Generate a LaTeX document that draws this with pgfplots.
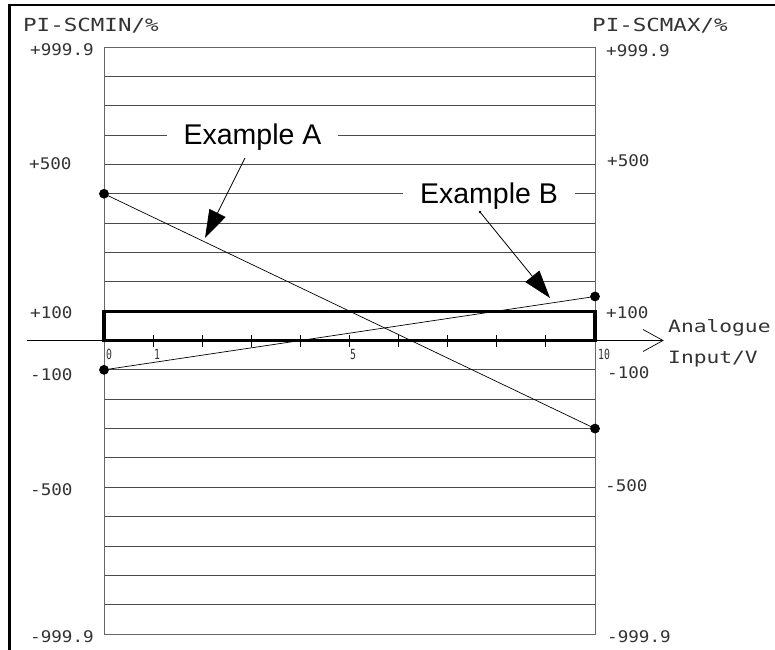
\documentclass[border=0pt]{standalone}
\usepackage{pgfplots}
\pgfplotsset{compat=1.18}
\usetikzlibrary{arrows.meta}
\usepackage{fontspec}
\setmainfont{Liberation Sans}
\newfontfamily\cad{DejaVu Sans Mono}[FakeStretch=1.25]
\newfontfamily\cadm{DejaVu Sans Mono}[FakeStretch=1.1]
\newfontfamily\cadn{DejaVu Sans Mono}[FakeStretch=0.7]
\definecolor{gridc}{HTML}{4A4A4A}
\definecolor{txt}{HTML}{333333}
\begin{document}
\begin{tikzpicture}
\path[use as bounding box] (0pt,0pt) rectangle (775pt,649pt);
\begin{axis}[
  at={(104pt,15pt)}, anchor=south west,
  scale only axis, width=491pt, height=587pt,
  xmin=0, xmax=10, ymin=-1000, ymax=1000,
  xtick=\empty,
  ytick={-1000,-900,-800,-700,-600,-500,-400,-300,-200,-100,0,100,200,300,400,500,600,700,800,900,1000},
  yticklabels={}, ytick style={draw=none},
  ymajorgrids, grid style={line width=0.9pt, color=gridc},
  axis line style={line width=0.9pt, color=gray!80!black},
  clip=false,
]
\addplot[black, line width=3.2pt, mark=none] coordinates {(0,0) (10,0) (10,100) (0,100)} -- cycle;
\addplot[black, line width=0.7pt, mark=*, mark size=4.5pt] coordinates {(0,500) (10,-300)};
\addplot[black, line width=0.7pt, mark=*, mark size=4.5pt] coordinates {(0,-100) (10,150)};
\end{axis}
\begin{scope}[x=1pt,y=1pt]
% frame
\draw[line width=2.7pt] (9.5,-2) -- (9.5,644) -- (780,644);
% x axis line with open arrow
\draw[line width=0.7pt] (27,308.5) -- (663,308.5);
\draw[line width=0.7pt] (643,319.5) -- (663,308.5) -- (643,297.5);
\foreach \k in {1,...,9} {\draw[line width=0.9pt] ({104+49.1*\k},302.5) -- ({104+49.1*\k},314.5);}
% tick labels
\begin{scope}[every node/.style={inner sep=0pt, anchor=base west, text=txt, font=\cadn\fontsize{14}{14}\selectfont}]
\node at (106,290) {0};
\node at (154,290) {1};
\node at (350,290) {5};
\node at (598,290) {10};
\end{scope}
% titles and value labels
\begin{scope}[every node/.style={inner sep=0pt, anchor=base west, text=txt, font=\cadm\fontsize{16}{16}\selectfont}]
\node[font=\cad\fontsize{18}{18}\selectfont] at (23,617) {PI-SCMIN/\%};
\node[font=\cad\fontsize{18}{18}\selectfont] at (592,617) {PI-SCMAX/\%};
\node at (30,593) {+999.9};
\node at (29,479) {+500};
\node at (30,331) {+100};
\node at (30,269) {-100};
\node at (30,154) {-500};
\node at (30,7) {-999.9};
\node at (606,592) {+999.9};
\node at (607,482) {+500};
\node at (606,331) {+100};
\node at (607,271) {-100};
\node at (605,158) {-500};
\node at (607,7) {-999.9};
\node[font=\cad\fontsize{17}{17}\selectfont] at (668,317) {Analogue};
\node[font=\cad\fontsize{17}{17}\selectfont] at (668,286) {Input/V};
\end{scope}
% example labels
\node[fill=white, inner xsep=17pt, inner ysep=3pt, anchor=base, font=\fontsize{28.5}{30}\selectfont] at (252.5,504) {Example A};
\node[fill=white, inner xsep=17pt, inner ysep=3pt, anchor=base, font=\fontsize{28.5}{30}\selectfont] at (489,446) {Example B};
% arrows
\draw[line width=0.8pt, -{Triangle[length=28pt,width=18pt]}] (245,491) -- (205,411);
\draw[line width=0.8pt, -{Triangle[length=28pt,width=18pt]}] (480,437) -- (550,351);
\fill (480,437) circle (1.3pt);
\end{scope}
\end{tikzpicture}
\end{document}
